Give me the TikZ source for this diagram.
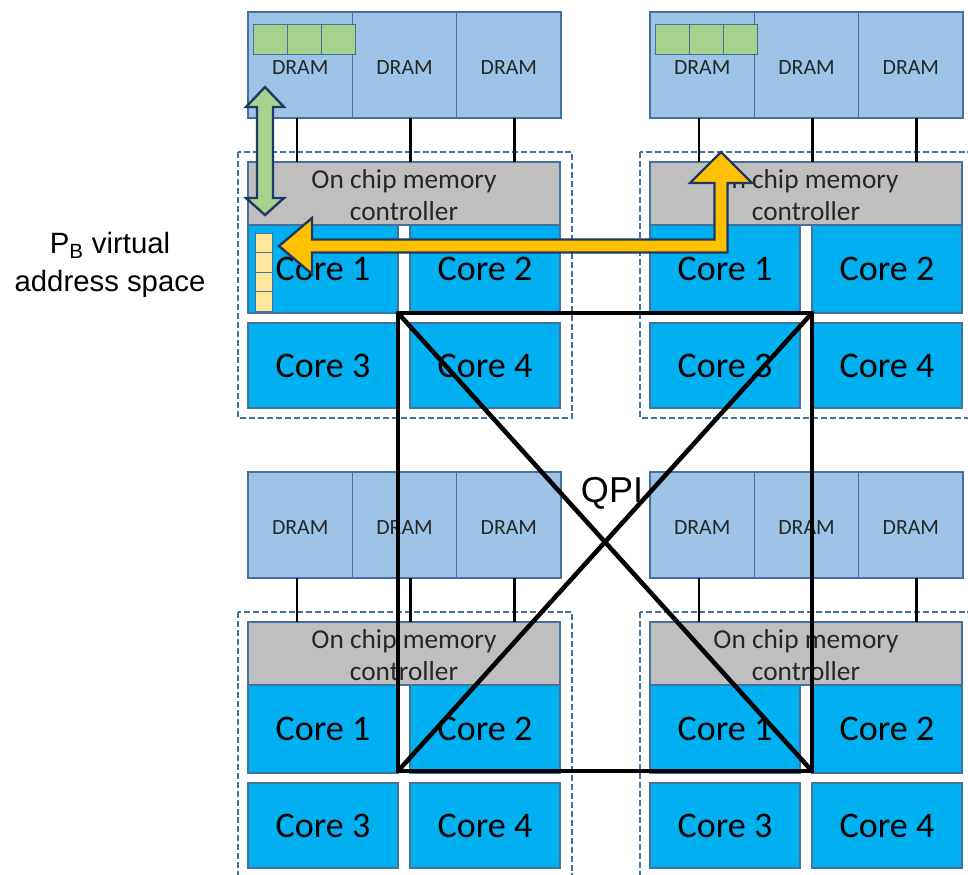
\documentclass[tikz,border=0pt]{standalone}
\usepackage{fontspec}
\setmainfont{Carlito}
\newfontfamily\arialf{Liberation Sans}
\definecolor{dramfill}{HTML}{9DC3E6}
\definecolor{corefill}{HTML}{00B0F0}
\definecolor{edgeblue}{HTML}{41719C}
\definecolor{mcgray}{HTML}{BFBFBF}
\definecolor{greencell}{HTML}{A9D18E}
\definecolor{yellowcell}{HTML}{FFE699}
\definecolor{orangearrow}{HTML}{FFC000}
\definecolor{navyedge}{HTML}{203864}
\definecolor{dramtext}{HTML}{262626}
\tikzset{
  bw/.style={minimum width={#1*0.75pt}},
  bh/.style={minimum height={#1*0.75pt}},
  boxbase/.style={draw=edgeblue, line width=1.2pt, inner sep=0pt, outer sep=0pt, rectangle},
  drambox/.style={boxbase, fill=dramfill, bw=104.33, bh=106},
  dramlabel/.style={inner sep=0pt, text=dramtext, font=\fontsize{16.3}{19}\selectfont},
  corebox/.style={boxbase, fill=corefill, bw=150, font=\fontsize{27}{32}\selectfont},
  mcbox/.style={boxbase, fill=mcgray, bw=312, bh=63},
  mclabel/.style={inner sep=0pt, align=center, text=dramtext, font=\fontsize{20.5}{24}\selectfont},
  gcell/.style={boxbase, fill=greencell, line width=0.7pt, bw=34, bh=30},
  ycell/.style={boxbase, fill=yellowcell, line width=0.6pt, bw=17, bh=19.5},
  chipframe/.style={draw=edgeblue, line width=1.2pt, dash pattern=on 4.5pt off 2.2pt},
  busline/.style={line width=2.1pt, black},
  qpiline/.style={line width=3.4pt, black, line cap=round, line join=round},
  bigarrow/.style={draw=navyedge, line width=1.8pt, line join=miter},
}
\begin{document}
\begin{tikzpicture}[x=0.75pt, y=-0.75pt]
\useasboundingbox (0,0) rectangle (968,875);
\begin{scope}
\clip (0,0) rectangle (968,875);
\foreach \qx/\qy/\q in {0/0/a, 402/0/b, 0/460/c, 402/460/d}{
  % chip frame
  \draw[chipframe] (\qx+238,\qy+152) rectangle (\qx+572,\qy+418);
  % DRAMs
  \node[drambox] (d\q1) at (\qx+300.17,\qy+65) {};
  \node[drambox] (d\q2) at (\qx+404.5,\qy+65) {};
  \node[drambox] (d\q3) at (\qx+508.83,\qy+65) {};
  \node[dramlabel] at ([yshift=-2pt]d\q1.center) {DRAM};
  \node[dramlabel] at ([yshift=-2pt]d\q2.center) {DRAM};
  \node[dramlabel] at ([yshift=-2pt]d\q3.center) {DRAM};
  % memory controller
  \node[mcbox] (mc\q) at (\qx+404,\qy+193.5) {};
  \node[mclabel] at ([yshift=-1.5pt]mc\q.center) {On chip memory\\controller};
  % bus lines
  \draw[busline] ([xshift=-2.4pt]d\q1.south) -- ([xshift=-2.4pt]d\q1.south |- mc\q.north);
  \draw[busline] ([xshift=4.5pt]d\q2.south) -- ([xshift=4.5pt]d\q2.south |- mc\q.north);
  \draw[busline] ([xshift=4.5pt]d\q3.south) -- ([xshift=4.5pt]d\q3.south |- mc\q.north);
  % cores
  \node[corebox, bh=88] (c\q1) at (\qx+323,\qy+269) {Core 1};
  \node[corebox, bh=88] (c\q2) at (\qx+485,\qy+269) {Core 2};
  \node[corebox, bh=85] (c\q3) at (\qx+323,\qy+365.5) {Core 3};
  \node[corebox, bh=85] (c\q4) at (\qx+485,\qy+365.5) {Core 4};
}
\end{scope}
% green page cells in the top DRAMs
\foreach \qx/\q in {0/a, 402/b}{
  \node[gcell] (g\q1) at (\qx+270,39) {};
  \node[gcell] (g\q2) at (\qx+304,39) {};
  \node[gcell] (g\q3) at (\qx+338,39) {};
}
% yellow virtual address cells
\node[ycell] (y1) at (263.5,242.75) {};
\node[ycell] (y2) at (263.5,262.25) {};
\node[ycell] (y3) at (263.5,281.75) {};
\node[ycell] (y4) at (263.5,301.25) {};
% QPI interconnect
\coordinate (qtl) at (398,313);
\coordinate (qtr) at (812,313);
\coordinate (qbl) at (398,771);
\coordinate (qbr) at (812,771);
\draw[qpiline] (qtl) -- (qtr) -- (qbr) -- (qbl) -- cycle;
\draw[qpiline] (qtl) -- (qbr);
\draw[qpiline] (qtr) -- (qbl);
\node[font=\arialf\fontsize{27}{32}\selectfont, inner sep=0pt] (qpi) at (612,493) {QPI};
% side label
\node[font=\arialf\fontsize{22}{28.5}\selectfont, align=center, inner sep=0pt] (pb) at (110,265) {P\textsubscript{B} virtual\\address space};
% green double arrow
\draw[bigarrow, fill=greencell] (265,87) -- (284,107) -- (273,107) -- (273,198) -- (284,198) -- (265,215)
  -- (246,198) -- (257,198) -- (257,107) -- (246,107) -- cycle;
% orange bent double arrow
\draw[bigarrow, fill=orangearrow] (279,246) -- (312,218) -- (312,239.5) -- (714.5,239.5) -- (714.5,183)
  -- (690,183) -- (721,152) -- (752,183) -- (727.5,183) -- (727.5,252.5) -- (312,252.5) -- (312,274) -- cycle;
\end{tikzpicture}
\end{document}
